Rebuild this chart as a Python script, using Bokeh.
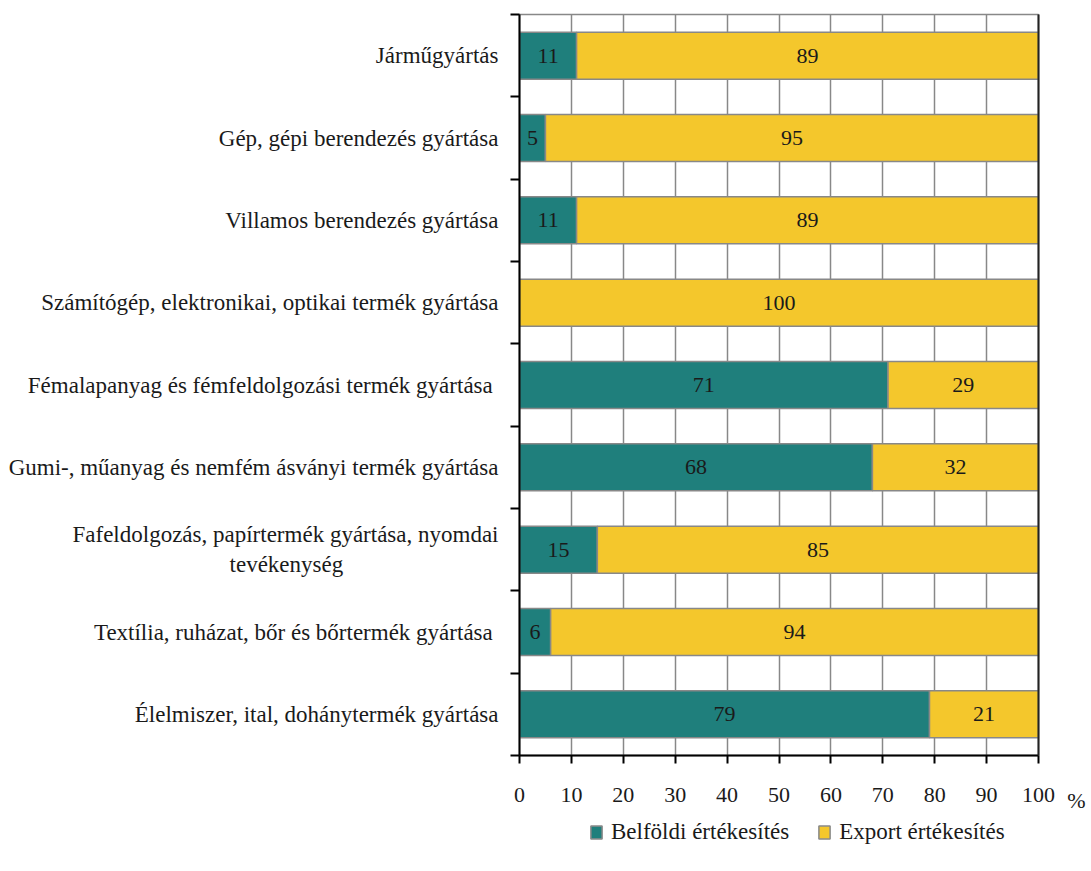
import numpy as np
from bokeh.plotting import figure
from bokeh.layouts import column, row
from bokeh.models import (Range1d, FixedTicker, LinearAxis, Legend, LegendItem,
                          ColumnDataSource)
from bokeh.core.properties import value
from bokeh.embed import file_html
from bokeh.resources import INLINE

# bottom to top
categories = [
    "Élelmiszer, ital, dohánytermék gyártása",
    "Textília, ruházat, bőr és bőrtermék gyártása\u00a0",
    "Fafeldolgozás, papírtermék gyártása, nyomdai\ntevékenység" + "\u00a0" * 27,
    "Gumi-, műanyag és nemfém ásványi termék gyártása",
    "Fémalapanyag és fémfeldolgozási termék gyártása\u00a0",
    "Számítógép, elektronikai, optikai termék gyártása",
    "Villamos berendezés gyártása",
    "Gép, gépi berendezés gyártása",
    "Járműgyártás",
]
belfoldi = [79, 6, 15, 68, 71, 0, 11, 5, 11]
export = [21, 94, 85, 32, 29, 100, 89, 95, 89]
series_names = ["Belföldi értékesítés", "Export értékesítés"]
x_ticks = [0, 10, 20, 30, 40, 50, 60, 70, 80, 90, 100]
unit_label = "%"

TEAL = "#1f7f7c"
YELLOW = "#f4c72c"
GRID = "#888888"
FONT = "Liberation Serif"
TXT = "#1a1a1a"

n = len(categories)
ypos = np.arange(n) + 0.5
src = ColumnDataSource(dict(y=ypos, b=belfoldi, e=export))

p = figure(width=1062, height=815, output_backend="svg", toolbar_location=None,
           x_range=Range1d(0, 100), y_range=Range1d(0, n),
           min_border_left=519, min_border_right=24, min_border_top=14,
           min_border_bottom=58,
           x_axis_location=None, y_axis_location=None)
p.background_fill_color = "white"
p.outline_line_color = GRID
p.outline_line_width = 1.5

rs = p.hbar_stack(["b", "e"], y="y", height=0.57, source=src,
                  color=[TEAL, YELLOW], line_color=GRID, line_width=1.5)

# value labels
lx, ly, lt = [], [], []
for i in range(n):
    if belfoldi[i] > 0:
        lx.append(belfoldi[i] / 2); ly.append(ypos[i]); lt.append(str(belfoldi[i]))
    if export[i] > 0:
        lx.append(belfoldi[i] + export[i] / 2); ly.append(ypos[i]); lt.append(str(export[i]))
p.text(x=lx, y=ly, text=lt, text_font=value(FONT), text_font_size="22px",
       text_align="center", text_baseline="middle", text_color=TXT)

# grid
p.xgrid.ticker = FixedTicker(ticks=x_ticks)
p.xgrid.grid_line_color = GRID
p.xgrid.grid_line_width = 1.5
p.ygrid.grid_line_color = None


def style_x_axis(ax):
    ax.axis_line_width = 2
    ax.major_tick_line_width = 2
    ax.major_tick_out = 8; ax.major_tick_in = 0
    ax.minor_tick_line_color = None
    ax.major_label_standoff = 24
    ax.major_label_text_font = FONT
    ax.major_label_text_font_size = "22px"
    ax.major_label_text_color = TXT


# x axis
xa = LinearAxis(ticker=FixedTicker(ticks=x_ticks))
style_x_axis(xa)
xa.axis_line_color = "black"
xa.major_tick_line_color = "black"
p.add_layout(xa, "below")

# y axis
ya = LinearAxis(ticker=FixedTicker(ticks=list(ypos), minor_ticks=list(range(n + 1))))
ya.major_label_overrides = {float(y): c for y, c in zip(ypos, categories)}
ya.axis_line_color = "black"; ya.axis_line_width = 2
ya.major_tick_line_color = None
ya.minor_tick_line_color = "black"; ya.minor_tick_line_width = 2
ya.minor_tick_out = 9; ya.minor_tick_in = 0
ya.major_label_standoff = 12
ya.major_label_text_font = FONT
ya.major_label_text_font_size = "23px"
ya.major_label_text_color = TXT
p.add_layout(ya, "left")

# right frame edge
ra = LinearAxis(ticker=FixedTicker(ticks=[]))
ra.axis_line_color = "#222222"; ra.axis_line_width = 2
ra.major_tick_line_color = None; ra.minor_tick_line_color = None
ra.major_label_text_font_size = "0px"
p.add_layout(ra, "right")

# unit label panel to the right of the axis (frame aligned with main plot)
pf = figure(width=28, height=815, output_backend="svg", toolbar_location=None,
            x_range=Range1d(0, 1), y_range=Range1d(0, 1),
            min_border=0, x_axis_location=None, y_axis_location=None)
pf.outline_line_color = None
pf.grid.visible = False
ua = LinearAxis(ticker=FixedTicker(ticks=[0.5]))
style_x_axis(ua)
ua.major_label_overrides = {0.5: unit_label}
ua.axis_line_color = None
ua.major_tick_line_alpha = 0
pf.add_layout(ua, "below")

# legend panel below
lf = figure(width=1090, height=50, output_backend="svg", toolbar_location=None,
            x_range=Range1d(0, 1), y_range=Range1d(0, 1),
            min_border=0, x_axis_location=None, y_axis_location=None)
lf.outline_line_color = None
lf.grid.visible = False
swatch = ColumnDataSource(dict(y=[-10], b=[0], e=[0]))
lrs = lf.hbar_stack(["b", "e"], y="y", height=0.5, source=swatch,
                    color=[TEAL, YELLOW], line_color=GRID, line_width=1.5)
legend = Legend(items=[LegendItem(label=series_names[0], renderers=[lrs[0]]),
                       LegendItem(label=series_names[1], renderers=[lrs[1]])],
                orientation="horizontal", location=(589, 20))
legend.label_text_font = FONT
legend.label_text_font_size = "23px"
legend.label_text_color = TXT
legend.glyph_width = 14
legend.glyph_height = 16
legend.spacing = 28
legend.label_standoff = 8
legend.border_line_color = None
legend.background_fill_alpha = 0
legend.padding = 0
legend.margin = 0
lf.add_layout(legend, "center")

layout = column(row(p, pf), lf)
open("out.html", "w").write(file_html(layout, INLINE))
